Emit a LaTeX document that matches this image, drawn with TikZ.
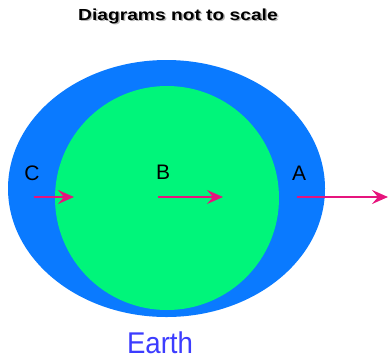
\documentclass[tikz,border=0pt]{standalone}
\usepackage{fontspec}
\setmainfont{Liberation Sans}
\usetikzlibrary{shapes.geometric,arrows.meta}
\definecolor{outerblue}{RGB}{10,122,255}
\definecolor{innergreen}{RGB}{0,245,122}
\definecolor{arrowpink}{RGB}{230,20,125}
\definecolor{earthblue}{RGB}{60,60,255}
\tikzset{
  force/.style={draw=arrowpink,line width=2pt,-{Stealth[length=16pt,width=14pt,inset=6pt]}},
  letter/.style={font=\fontsize{21}{21}\selectfont,text=black,inner sep=0pt},
  titletext/.style={font=\bfseries\fontsize{16}{16}\selectfont,inner sep=0pt,xscale=1.2},
}
\begin{document}
\begin{tikzpicture}[x=1pt,y=-1pt]
\useasboundingbox (0,0) rectangle (390,360);
\node[ellipse,fill=outerblue,minimum width=317pt,minimum height=257pt,inner sep=0pt] (outer) at (166.5,188.5) {};
\node[circle,fill=innergreen,minimum size=224pt,inner sep=0pt] (inner) at (167,198) {};
\node[titletext,text=gray!55] (shadow) at (179.5,17.5) {Diagrams not to scale};
\node[titletext,text=black] (title) at (178,16) {Diagrams not to scale};
\node[letter] (C) at (32,173) {C};
\node[letter] (B) at (163,172) {B};
\node[letter] (A) at (299,173) {A};
\coordinate (c1) at (34,197);
\coordinate (c2) at (74,197);
\coordinate (b1) at (158,197);
\coordinate (b2) at (223,197);
\coordinate (a1) at (297,197);
\coordinate (a2) at (388,197);
\draw[force] (c1) -- (c2);
\draw[force] (b1) -- (b2);
\draw[force] (a1) -- (a2);
\node[font=\fontsize{30}{30}\selectfont,text=earthblue,inner sep=0pt,xscale=0.92] (earth) at (160,343) {Earth};
\end{tikzpicture}
\end{document}
